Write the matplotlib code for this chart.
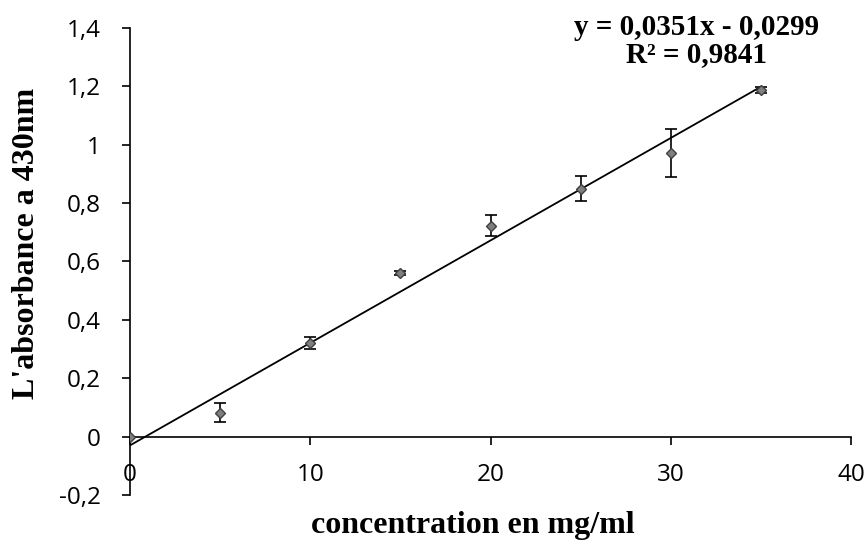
import matplotlib
matplotlib.use('Agg')
import matplotlib.pyplot as plt
from matplotlib.ticker import FuncFormatter
import numpy as np

concentration = [0, 5, 10, 15, 20, 25, 30, 35]
absorbance = [0.0, 0.082, 0.320, 0.562, 0.723, 0.850, 0.973, 1.188]
erreur = [0.0, 0.033, 0.020, 0.007, 0.035, 0.043, 0.082, 0.010]

pente = 0.0351
ordonnee = -0.0299
r2 = 0.9841

def virgule(v, pos):
    s = '{:g}'.format(round(v, 2))
    return s.replace('.', ',')

fig = plt.figure(figsize=(8.68, 5.45), dpi=100)
ax = fig.add_axes([0.1498, 0.0917, 0.8306, 0.857])

# Droite de régression
xl = np.array([0, 35])
ax.plot(xl, pente * xl + ordonnee, '-', color='black', linewidth=1.3, zorder=2)

ax.errorbar(concentration, absorbance, yerr=erreur, fmt='D', color='black',
            markerfacecolor='#7f7f7f', markeredgecolor='#404040', markersize=5.5,
            ecolor='black', elinewidth=1.2, capsize=4, capthick=1.2, zorder=3)

ax.set_xlim(0, 40)
ax.set_ylim(-0.2, 1.4)
ax.set_xticks([0, 10, 20, 30, 40])
ax.set_yticks(np.arange(-0.2, 1.41, 0.2))
ax.xaxis.set_major_formatter(FuncFormatter(virgule))
ax.yaxis.set_major_formatter(FuncFormatter(virgule))

ax.spines['top'].set_visible(False)
ax.spines['right'].set_visible(False)
ax.spines['bottom'].set_position(('data', 0))
ax.spines['left'].set_linewidth(1.2)
ax.spines['bottom'].set_linewidth(1.2)
ax.tick_params(axis='both', direction='out', length=6, width=1.2,
               labelsize=17.5, colors='black')
ax.tick_params(axis='y', pad=15)
ax.tick_params(axis='x', pad=13)
for lab in ax.get_xticklabels() + ax.get_yticklabels():
    lab.set_fontfamily('Open Sans')

fig.text(0.545, 0.036, 'concentration en mg/ml', ha='center', va='center',
         fontsize=23, fontweight='bold', family='Liberation Serif')
fig.text(0.030, 0.554, "L'absorbance a 430nm", ha='center', va='center',
         rotation=90, fontsize=23, fontweight='bold', family='Liberation Serif')

fig.text(0.802, 0.950, 'y = 0,0351x - 0,0299', ha='center', va='center',
         fontsize=21, fontweight='bold', family='Liberation Serif')
fig.text(0.802, 0.899, 'R² = 0,9841', ha='center', va='center',
         fontsize=21, fontweight='bold', family='Liberation Serif')

fig.savefig('out.png', dpi=100)
